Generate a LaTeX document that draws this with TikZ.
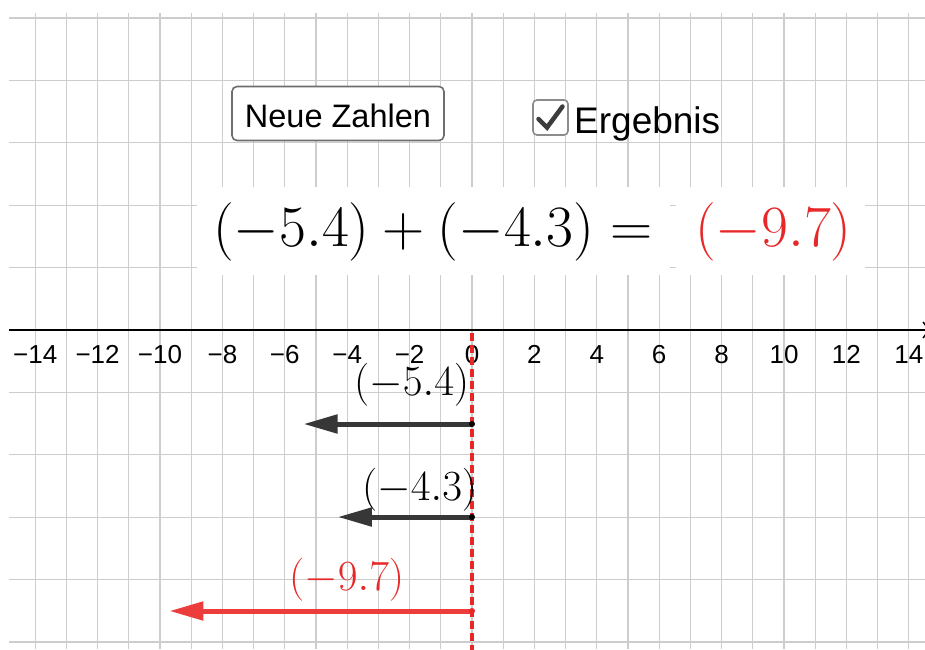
\RequirePackage{fix-cm}
\documentclass[tikz,border=0pt]{standalone}
\usepackage{fontspec}
\newfontfamily\arialf{Liberation Sans}
\usetikzlibrary{arrows.meta}
\definecolor{gridc}{RGB}{205,205,205}
\definecolor{myred}{RGB}{232,40,40}
\definecolor{vecred}{RGB}{236,60,60}
\definecolor{vecblack}{RGB}{55,55,55}
\definecolor{btnborder}{RGB}{110,110,110}
\definecolor{cbborder}{RGB}{140,140,140}
\definecolor{checkc}{RGB}{60,60,60}
\tikzset{
  gridline/.style={draw=gridc, line width=1.3pt},
  axisline/.style={draw=black, line width=1.5pt, -{Straight Barb[length=6pt,width=16pt]}},
  ticklabel/.style={anchor=base, inner sep=0pt, font=\arialf\fontsize{26}{30}\selectfont},
  vecline/.style={line width=5pt, -{Triangle[length=34pt,width=18pt]}},
  veclabel/.style={anchor=base west, inner sep=0pt, font=\fontsize{43}{48}\selectfont},
  bigformula/.style={anchor=base west, inner sep=0pt, font=\fontsize{58.5}{64}\selectfont},
  buttonbox/.style={draw=btnborder, fill=white, line width=1.6pt, rounded corners=5pt, minimum width=212pt, minimum height=54pt, inner sep=0pt},
  checkbox/.style={draw=cbborder, fill=white, line width=1.6pt, rounded corners=4pt, minimum size=35pt, inner sep=0pt},
  uitext/.style={anchor=base, inner sep=0pt, font=\arialf\fontsize{32.5}{38}\selectfont},
  zerodash/.style={draw=myred, line width=3.5pt, dash pattern=on 8pt off 4pt}
}
\begin{document}
\begin{tikzpicture}[x=1pt,y=-1pt]
\useasboundingbox (0,0) rectangle (925,649);
\fill[white] (0,0) rectangle (925,649);
% grid
\foreach \k in {-14,...,14} \draw[gridline] ({472+31.2*\k},13) -- ({472+31.2*\k},649);
\foreach \j in {-5,...,-1,1,2,3,4,5} \draw[gridline] (9,{330+62.4*\j}) -- (925,{330+62.4*\j});
% white backgrounds of the formula
\fill[white] (197,187) rectangle (670,275);
\fill[white] (676,187) rectangle (865,275);
% button
\node[buttonbox] (btn) at (338,113.5) {};
\node[uitext] (btntext) at (338,127) {Neue Zahlen};
% checkbox
\node[checkbox] (cb) at (550.5,117.5) {};
\coordinate (ck1) at (538.5,119);
\coordinate (ck2) at (547,127.5);
\coordinate (ck3) at (562.5,106.5);
\draw[checkc, line width=4.5pt, line cap=round, line join=miter] (ck1) -- (ck2) -- (ck3);
\node[anchor=base west, inner sep=0pt, font=\arialf\fontsize{37}{42}\selectfont] (erg) at (574,133) {Ergebnis};
% formula
\node[bigformula] (f1) at (213,246) {$(-5.4)+(-4.3)=$};
\node[bigformula, text=myred] (f2) at (695,246) {$(-9.7)$};
% axis
\coordinate (axL) at (9,330);
\coordinate (axR) at (930,330);
\draw[axisline] (axL) -- (axR);
\foreach \k/\t in {-14/−14,-12/−12,-10/−10,-8/−8,-6/−6,-4/−4,-2/−2,0/0,2/2,4/4,6/6,8/8,10/10,12/12,14/14}
  \node[ticklabel] (tick\k) at ({472+31.2*\k},363) {\t};
% dashed zero line
\coordinate (zt) at (472,333);
\coordinate (zb) at (472,652);
\draw[zerodash] (zt) -- (zb);
% vectors
\coordinate (s1) at (472,424);
\coordinate (e1) at (303.5,424);
\coordinate (s2) at (472,517);
\coordinate (e2) at (337.8,517);
\coordinate (s3) at (472,611);
\coordinate (e3) at (169.4,611);
\draw[vecline, draw=vecblack, fill=vecblack] (s1) -- (e1);
\draw[vecline, draw=vecblack, fill=vecblack] (s2) -- (e2);
\draw[vecline, draw=vecred, fill=vecred] (s3) -- (e3);
\fill[black] (s1) circle (3pt);
\fill[black] (s2) circle (3pt);
\fill[myred] (s3) circle (3pt);
% vector labels
\node[veclabel] (l1) at (354,395) {$(-5.4)$};
\node[veclabel] (l2) at (362,500) {$(-4.3)$};
\node[veclabel, text=myred] (l3) at (289,590) {$(-9.7)$};
\end{tikzpicture}
\end{document}
